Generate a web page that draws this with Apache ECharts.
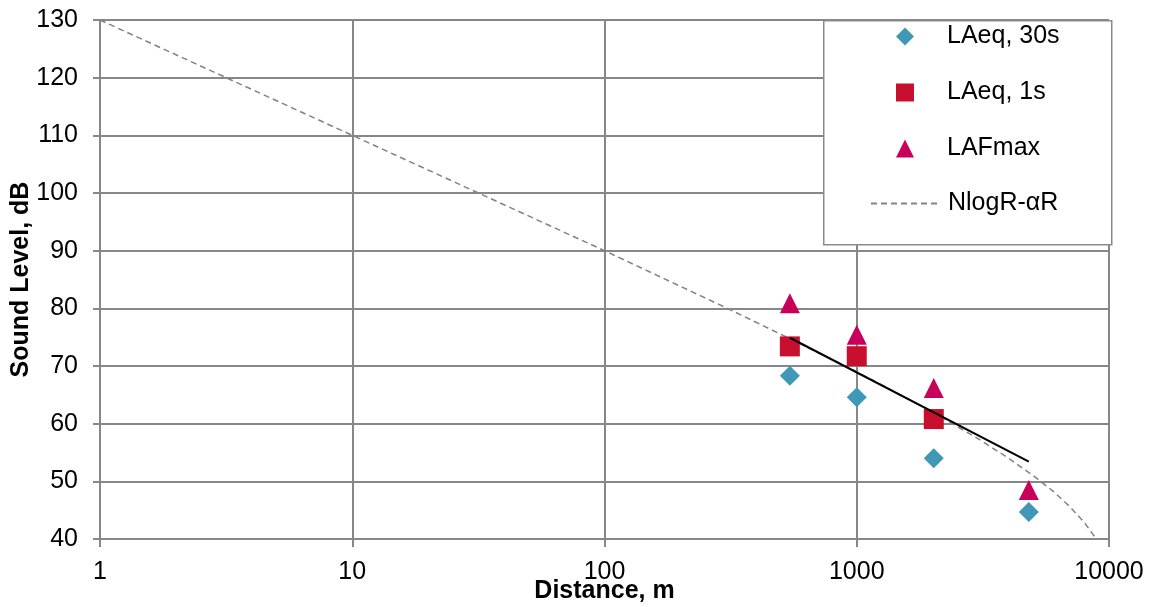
<!DOCTYPE html>
<html>
<head>
<meta charset="utf-8">
<script src="https://cdn.jsdelivr.net/npm/echarts@6/dist/echarts.min.js"></script>
<style>html,body{margin:0;padding:0;background:#fff}#c{width:1151px;height:607px}</style>
</head>
<body>
<div id="c"></div>
<script>
// Data
const distances = [543, 1000, 2020, 4810];
const laeq30s = [68.3, 64.6, 54.0, 44.7];
const laeq1s = [73.4, 71.7, 60.8, null];
const lafmax = [80.9, 75.4, 66.2, 48.5];
const modelDist = [1, 10, 100, 300, 500, 1000, 2000, 3000, 4000, 5000, 6000, 7000, 8000, 8900];
const modelLevel = [130, 110, 90, 80.2, 75.5, 69.0, 62.0, 57.5, 54.0, 51.0, 48.3, 45.6, 42.8, 40.0];
const trendDist = [543, 4810];
const trendLevel = [74.9, 53.4];
const xTicks = [1, 10, 100, 1000, 10000];
const seriesNames = ['LAeq, 30s', 'LAeq, 1s', 'LAFmax', 'NlogR-\u03b1R'];

const FONT = '"Liberation Sans", Arial, sans-serif';
const GRID = '#878787';
const FS = 25;
const pair = (xs, ys) => xs.map((x, i) => [x, ys[i]]).filter(p => p[1] != null);

const chart = echarts.init(document.getElementById('c'), null, {renderer: 'canvas'});
chart.setOption({
  animation: false,
  textStyle: {fontFamily: FONT},
  grid: {left: 100, right: 42, top: 20, bottom: 68, containLabel: false, outerBoundsMode: 'none'},
  xAxis: {
    type: 'log', logBase: 10, min: xTicks[0], max: xTicks[xTicks.length - 1],
    name: 'Distance, m', nameLocation: 'middle', nameGap: 40, nameMoveOverlap: false,
    nameTextStyle: {fontFamily: FONT, fontSize: FS, fontWeight: 'bold', color: '#000'},
    axisLine: {lineStyle: {color: GRID, width: 2}},
    axisTick: {show: true, length: 8, lineStyle: {color: GRID, width: 2}},
    axisLabel: {fontFamily: FONT, fontSize: FS, color: '#000', margin: 21,
      formatter: v => { const r = Math.round(v); return xTicks.indexOf(r) >= 0 ? String(r) : ''; }},
    splitLine: {show: true, lineStyle: {color: GRID, width: 2}},
    minorTick: {show: false}
  },
  yAxis: {
    type: 'value', min: 40, max: 130, interval: 10,
    name: 'Sound Level, dB', nameLocation: 'middle', nameGap: 66, nameRotate: 90, nameMoveOverlap: false,
    nameTextStyle: {fontFamily: FONT, fontSize: FS, fontWeight: 'bold', color: '#000'},
    axisLine: {show: true, lineStyle: {color: GRID, width: 2}},
    axisTick: {show: true, length: 7, lineStyle: {color: GRID, width: 2}},
    axisLabel: {fontFamily: FONT, fontSize: FS, color: '#000', margin: 22},
    splitLine: {show: true, lineStyle: {color: GRID, width: 2}}
  },
  graphic: [{
    type: 'rect', left: 823, top: 20, z: 50,
    shape: {width: 288, height: 224},
    style: {fill: '#fff', stroke: '#8a8a8a', lineWidth: 1.5}
  }],
  legend: [{
    data: seriesNames.slice(0, 3), orient: 'vertical', left: 896, top: 24, z: 60,
    itemWidth: 18, itemHeight: 18, itemGap: 31, padding: 0,
    textStyle: {fontFamily: FONT, fontSize: FS, lineHeight: 25, color: '#000', padding: [0, 0, 0, 28]}
  }, {
    data: [seriesNames[3]], orient: 'vertical', left: 870, top: 191, z: 60,
    itemWidth: 70, itemHeight: 18, padding: 0,
    itemStyle: {color: 'rgba(0,0,0,0)', opacity: 0, borderWidth: 0},
    textStyle: {fontFamily: FONT, fontSize: FS, lineHeight: 25, color: '#000', padding: [0, 0, 0, 2]}
  }],
  series: [
    {name: seriesNames[0], type: 'scatter', symbol: 'diamond', symbolSize: 20,
     itemStyle: {color: '#3E98B6', opacity: 1}, data: pair(distances, laeq30s), z: 5},
    {name: seriesNames[1], type: 'scatter', symbol: 'rect', symbolSize: 20,
     itemStyle: {color: '#C8102E', opacity: 1}, data: pair(distances, laeq1s), z: 6},
    {name: seriesNames[2], type: 'scatter', symbol: 'triangle', symbolSize: 20,
     itemStyle: {color: '#C8005C', opacity: 1}, data: pair(distances, lafmax), z: 7},
    {name: seriesNames[3], type: 'line', symbol: 'none', showSymbol: false,
     lineStyle: {color: '#828282', width: 1.5, type: [6, 4]},
     itemStyle: {color: '#828282'}, data: pair(modelDist, modelLevel), z: 3},
    {name: 'trend', type: 'line', symbol: 'none', showSymbol: false, silent: true,
     lineStyle: {color: '#000', width: 2}, data: pair(trendDist, trendLevel), z: 8}
  ]
});
</script>
</body>
</html>
